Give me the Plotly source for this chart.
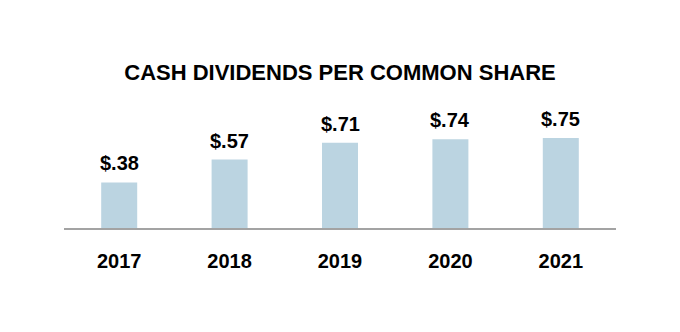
import plotly.graph_objects as go

years = ["2017", "2018", "2019", "2020", "2021"]
dividends = [0.38, 0.57, 0.71, 0.74, 0.75]
labels = ["$" + f"{v:.2f}"[1:] for v in dividends]

BAR = "#bbd4e1"
FONT = "Liberation Sans, Arial, sans-serif"

fig = go.Figure(
    go.Bar(
        x=years,
        y=dividends,
        marker=dict(color=BAR, line=dict(width=0)),
        hoverinfo="skip",
    )
)

# value labels above each bar (category index used as x position)
for i, (v, lab) in enumerate(zip(dividends, labels)):
    fig.add_annotation(
        x=i, y=v, xref="x", yref="y", text=lab, showarrow=False,
        yanchor="bottom", yshift=6,
        font=dict(family=FONT, size=20, color="#000000", weight="bold"),
    )

fig.update_layout(
    width=680,
    height=332,
    margin=dict(l=64, r=64, t=108, b=104),
    paper_bgcolor="white",
    plot_bgcolor="white",
    bargap=0.674,
    showlegend=False,
    title=dict(
        text="CASH DIVIDENDS PER COMMON SHARE",
        x=0.5, xanchor="center",
        yref="container", y=1 - 72 / 332, yanchor="middle",
        font=dict(family=FONT, size=22, color="#000000", weight="bold"),
    ),
)

fig.update_xaxes(
    type="category",
    range=[-0.5, 4.5],
    showline=True, linecolor="#a3a3a3", linewidth=2,
    showgrid=False, ticks="outside", ticklen=14, tickcolor="rgba(0,0,0,0)",
    tickfont=dict(family=FONT, size=20, color="#000000", weight="bold"),
)
fig.update_yaxes(
    range=[0, 1], visible=False, showgrid=False, zeroline=False,
)

fig.write_html("out.html")
